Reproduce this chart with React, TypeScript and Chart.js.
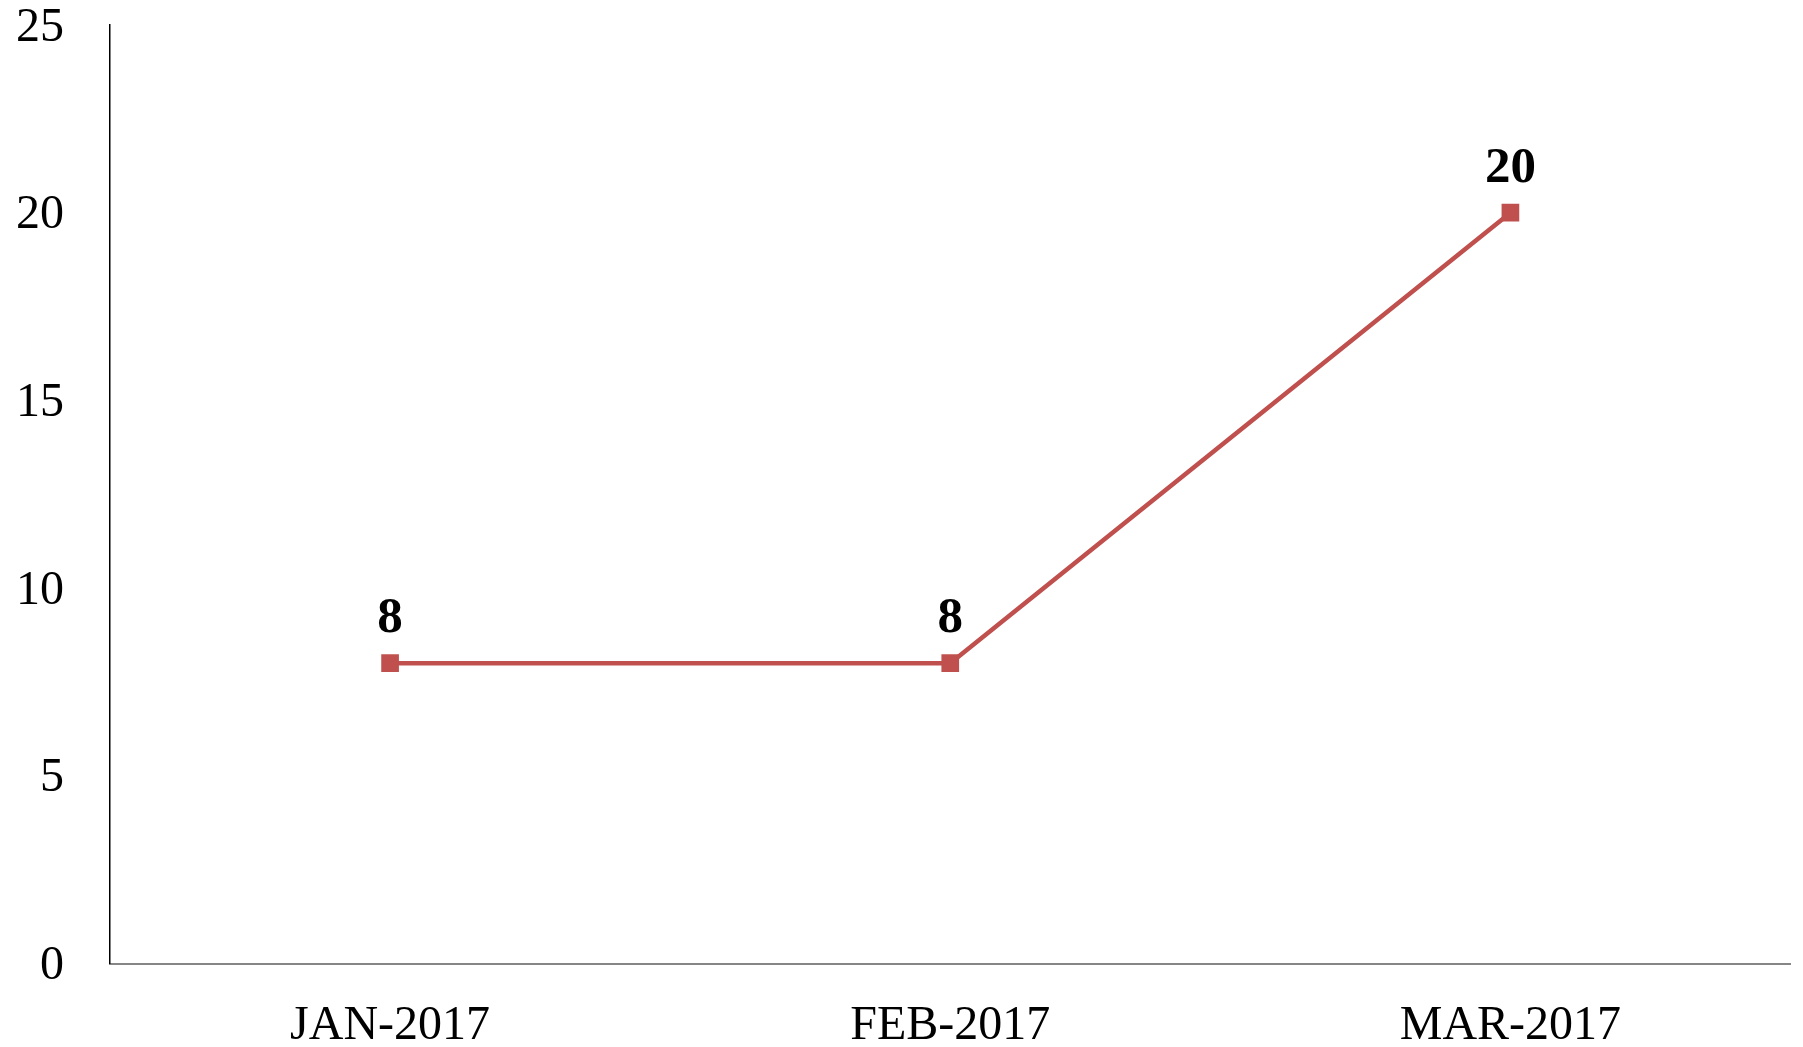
import React, { useEffect, useRef } from "react";
import { Chart, registerables } from "chart.js";

Chart.register(...registerables);

const categories = ["JAN-2017", "FEB-2017", "MAR-2017"];
const values = [8, 8, 20];
const yTicks = [0, 5, 10, 15, 20, 25];

const dataLabelPlugin = {
  id: "dataLabels",
  afterDatasetsDraw(chart: any) {
    const ctx = chart.ctx;
    const meta = chart.getDatasetMeta(0);
    ctx.save();
    ctx.font = "bold 51px 'Liberation Serif', serif";
    ctx.fillStyle = "#000000";
    ctx.textAlign = "center";
    ctx.textBaseline = "middle";
    meta.data.forEach((pt: any, i: number) => {
      ctx.fillText(String(values[i]), pt.x, pt.y - 44);
    });
    ctx.restore();
  },
};

export default function App() {
  const ref = useRef<HTMLCanvasElement | null>(null);
  useEffect(() => {
    if (!ref.current) return;
    const chart = new Chart(ref.current, {
      type: "line",
      data: {
        labels: categories,
        datasets: [
          {
            data: values,
            borderColor: "#C0504D",
            backgroundColor: "#C0504D",
            borderWidth: 4.5,
            pointStyle: "rect",
            pointRadius: 12.5,
            pointHoverRadius: 12.5,
            pointBackgroundColor: "#C0504D",
            pointBorderColor: "#C0504D",
            pointBorderWidth: 0,
            tension: 0,
          },
        ],
      },
      options: {
        animation: false,
        responsive: true,
        maintainAspectRatio: false,
        layout: { padding: { left: 16, right: 9, top: 25, bottom: 0 } },
        plugins: { legend: { display: false }, tooltip: { enabled: false } },
        scales: {
          x: {
            offset: true,
            grid: { display: false, drawTicks: false },
            border: { display: true, color: "#868686", width: 2 },
            ticks: {
              color: "#000000",
              padding: 34,
              font: { family: "'Liberation Serif', serif", size: 48 },
              maxRotation: 0,
            },
            afterFit: (axis: any) => {
              axis.height = 83.5;
            },
          },
          y: {
            min: 0,
            max: 25,
            grid: { display: false, drawTicks: false },
            border: { display: true, color: "#000000", width: 1.5 },
            afterBuildTicks: (axis: any) => {
              axis.ticks = yTicks.map((v) => ({ value: v }));
            },
            ticks: {
              color: "#000000",
              padding: 46,
              labelOffset: 3,
              font: { family: "'Liberation Serif', serif", size: 48, lineHeight: 1 },
            },
            afterFit: (axis: any) => {
              axis.width = 94;
              axis.paddingTop = 0;
              axis.paddingBottom = 0;
            },
          },
        },
      },
      plugins: [dataLabelPlugin],
    });
    return () => chart.destroy();
  }, []);
  return (
    <div style={{ position: "absolute", left: 0, top: 0, width: 1803, height: 1047 }}>
      <canvas ref={ref} />
    </div>
  );
}
